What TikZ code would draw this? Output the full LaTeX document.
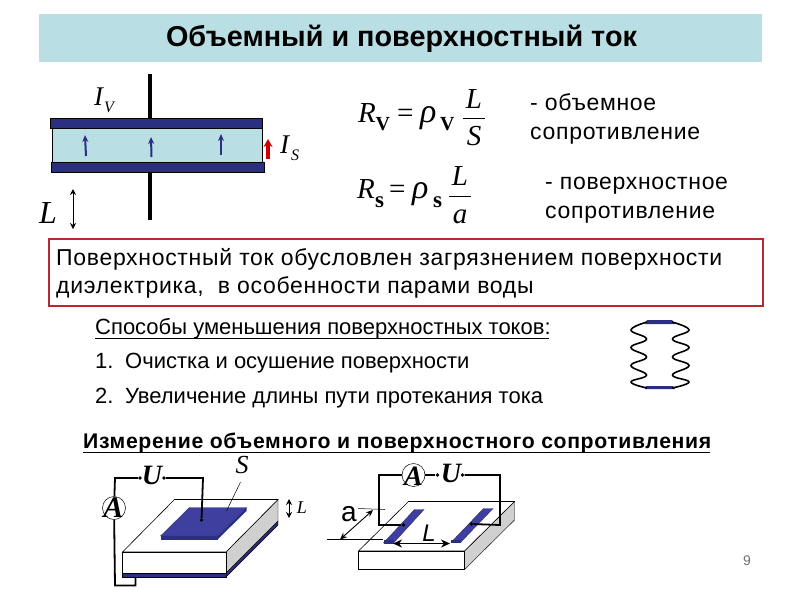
\documentclass[tikz,border=0pt]{standalone}
\usepackage{fontspec}
\setmainfont{Liberation Sans}
\newfontfamily\serifrm{Liberation Serif}
\newcommand{\serifit}{\serifrm\itshape}
\newfontfamily\spaced[LetterSpace=3]{Liberation Sans}
\newcommand{\spacedb}{\spaced\bfseries}
\usetikzlibrary{arrows.meta}
\definecolor{band}{HTML}{B9DEE4}
\definecolor{plate}{HTML}{2B2F80}
\definecolor{stripblue}{HTML}{3F3F9F}
\definecolor{redbox}{HTML}{B52A2E}
\definecolor{sidegrey}{HTML}{D0D0D0}
\newcommand{\fs}[1]{\fontsize{#1}{#1}\selectfont}
\tikzset{
  txt/.style={inner sep=0pt,anchor=base west,text=black},
  bodytxt/.style={txt,font=\fs{22}},
  sptxt/.style={txt,font=\spaced\fs{23}},
  mathi/.style={txt,font=\serifit\fs{29}},
  mathrho/.style={txt,font=\serifit\fs{34}},
  mathr/.style={txt,font=\serifrm\fs{29}},
  msub/.style={txt,font=\serifrm\bfseries\fs{20}},
  wire/.style={line width=1.8pt,black},
  rod/.style={line width=4pt,black},
  curup/.style={line width=2pt,plate,-{Stealth[length=7pt,width=6pt]}},
  dimarrow/.style={line width=.9pt,black,{Stealth[length=6pt,width=6pt]}-{Stealth[length=6pt,width=6pt]}},
  dot/.style={circle,fill=black,inner sep=0pt,minimum size=3.8pt},
  meter/.style={circle,draw=black,line width=.5pt,inner sep=0pt,minimum size=23pt},
  lab/.style={inner sep=0pt,font=\serifrm\bfseries\itshape\fs{28}},
}
\begin{document}
\begin{tikzpicture}[x=1pt,y=-1pt]
\useasboundingbox (0,0) rectangle (800,600);
\fill[white] (0,0) rectangle (800,600);
% title
\node[fill=band,minimum width=723pt,minimum height=48pt,inner sep=0pt,anchor=north west] (band) at (39,14) {};
\node[inner sep=0pt,font=\bfseries\fs{28.8}] (title) at (401.5,39) {Объемный и поверхностный ток};
% capacitor
\draw[rod] (150,74) -- (150,120);
\draw[rod] (150,170) -- (150,220);
\node[draw=black,line width=.7pt,fill=band,minimum width=210pt,minimum height=34pt,inner sep=0pt,anchor=north west] (diel) at (52,128) {};
\node[draw=black,line width=.5pt,fill=plate,minimum width=212pt,minimum height=10pt,inner sep=0pt,anchor=north west] (topplate) at (50,118) {};
\node[draw=black,line width=.5pt,fill=plate,minimum width=213pt,minimum height=10pt,inner sep=0pt,anchor=north west] (botplate) at (51,162) {};
\draw[curup] (86,156) -- (85,135);
\draw[curup] (151.5,157) -- (151,137);
\draw[curup] (221,155) -- (221,134);
\draw[line width=3.5pt,red!80!black,-{Stealth[length=8pt,width=9pt]}] (268,159) -- (268,139);
\node[txt,font=\serifit\fs{27}] (iv) at (94,105) {I};
\node[txt,font=\serifit\fs{16}] (ivs) at (104,112) {V};
\node[txt,font=\serifit\fs{27}] (is) at (280,153) {I};
\node[txt,font=\serifit\fs{16}] (iss) at (291,160) {S};
\node[txt,font=\serifit\fs{32}] (l1) at (39,223) {L};
\coordinate (l1a) at (73,189); \coordinate (l1b) at (73,229);
\draw[dimarrow] (l1a) -- (l1b);
% formulas
\node[mathi] (r1) at (358,122) {R};
\node[msub] (r1s) at (375.5,130) {V};
\node[mathr] (e1) at (397,122) {=};
\node[mathrho] (p1) at (420,122) {ρ};
\node[msub] (p1s) at (440,130) {V};
\node[mathi,anchor=base] (fl1) at (474,108) {L};
\node[mathi,anchor=base] (fs1) at (474,145) {S};
\draw[line width=.7pt] (463,118) -- (485,118);
\node[mathi] (r2) at (357,198) {R};
\node[msub,font=\serifrm\bfseries\fs{23}] (r2s) at (375,207) {s};
\node[mathr] (e2) at (389,198) {=};
\node[mathrho] (p2) at (412,198) {ρ};
\node[msub,font=\serifrm\bfseries\fs{23}] (p2s) at (433,207) {s};
\node[mathi,anchor=base] (fl2) at (460,185) {L};
\node[mathi,anchor=base] (fa2) at (460,223) {a};
\draw[line width=.7pt] (449,196) -- (471,196);
\node[sptxt] (t1) at (530,110) {- объемное};
\node[sptxt] (t2) at (530,139) {сопротивление};
\node[sptxt] (t3) at (545,189) {- поверхностное};
\node[sptxt] (t4) at (545,218.5) {сопротивление};
% red box
\node[draw=redbox,line width=2pt,minimum width=714pt,minimum height=66.5pt,inner sep=0pt,anchor=north west] (rbox) at (47.5,238) {};
\node[sptxt] (p1a) at (56,265) {Поверхностный ток обусловлен загрязнением поверхности};
\node[sptxt] (p1b) at (56,293.5) {диэлектрика,\ \ в особенности парами воды};
% list
\node[bodytxt] (h1) at (95,334.5) {Способы уменьшения поверхностных токов:};
\coordinate (h1l) at (95,338); \coordinate (h1r) at (549,338);
\draw[line width=.8pt] (h1l) -- (h1r);
\node[bodytxt] (n1) at (95,368.5) {1.};
\node[bodytxt] (i1) at (125,368.5) {Очистка и осушение поверхности};
\node[bodytxt] (n2) at (95,403) {2.};
\node[bodytxt] (i2) at (125,403) {Увеличение длины пути протекания тока};
% spring figure
\fill[plate] (647,320) -- (672,320) -- (675,324) -- (645,324) -- cycle;
\fill[plate] (646,386) -- (673,386) -- (675,389) -- (645,389) -- cycle;
\draw[line width=1.6pt] plot[smooth,tension=.75] coordinates {(647,322) (631,330) (646.5,339) (631,347.5) (646.5,357) (631,365.5) (646.5,375) (631,382) (647,388)};
\draw[line width=1.6pt] plot[smooth,tension=.75] coordinates {(672,322) (689,330) (672.5,339) (689,347.5) (672.5,357) (689,365.5) (672.5,375) (689,382) (672,388)};
% heading
\node[txt,font=\spacedb\fs{21.2}] (h2) at (83,448) {Измерение объемного и поверхностного сопротивления};
\coordinate (h2l) at (83,452); \coordinate (h2r) at (710,452);
\draw[line width=1pt] (h2l) -- (h2r);
% left block
\fill[plate,draw=black,line width=.4pt] (122,573) rectangle (226,577);
\fill[plate,draw=black,line width=.4pt] (226,573) -- (278,521) -- (278,525) -- (226,577) -- cycle;
\fill[sidegrey,draw=black,line width=.4pt] (226,552) -- (278,499.5) -- (278,521) -- (226,573) -- cycle;
\draw[line width=.6pt,fill=white] (174.5,499.5) -- (278,499.5) -- (226,552) -- (122.5,552) -- cycle;
\draw[line width=.7pt,fill=white] (122.5,552) rectangle (226,573);
\fill[plate] (160.5,536) -- (217.5,536) -- (217.5,539.5) -- (160.5,539.5) -- cycle;
\fill[plate] (217.5,536) -- (246.5,507.5) -- (246.5,511) -- (217.5,539.5) -- cycle;
\fill[stripblue,draw=plate,line width=.4pt] (189.5,507.5) -- (246.5,507.5) -- (217.5,536) -- (160.5,536) -- cycle;
% left circuit
\node[lab] (uL) at (152,475) {U};
\node[meter] (aL) at (114,508) {};
\node[lab,font=\serifrm\bfseries\itshape\fs{30}] (aLt) at (113.5,508) {A};
\node[dot] (uLa) at (140,478) {};
\node[dot] (uLb) at (164,478) {};
\coordinate (c1) at (203,478);
\node[dot] (dL) at (201.5,520) {};
\coordinate (c2) at (115,478);
\coordinate (c3) at (115,585.5);
\coordinate (c4) at (135.5,585.5);
\coordinate (c5) at (135.5,577);
\draw[wire] (uLb) -- (c1) -- (dL);
\draw[wire] (uLa) -- (c2) -- (aL);
\draw[wire] (aL) -- (c3) -- (c4) -- (c5);
\node[txt,font=\serifit\fs{26},anchor=center] (sL) at (242,465) {S};
\coordinate (sLa) at (240.5,482); \coordinate (sLb) at (226.5,511);
\draw[line width=.5pt] (sLa) -- (sLb);
\coordinate (lLa) at (289,499); \coordinate (lLb) at (289,518);
\draw[line width=.9pt,{Stealth[length=6pt,width=6pt]}-{Stealth[length=6pt,width=6pt]}] (lLa) -- (lLb);
\node[txt,font=\serifit\fs{18},anchor=center] (lL) at (302,508) {L};
% right block
\fill[sidegrey,draw=black,line width=.4pt] (464.5,551) -- (514.5,501.5) -- (514.5,520) -- (464.5,569.5) -- cycle;
\draw[line width=.6pt,fill=white] (408.5,501.5) -- (514.5,501.5) -- (464.5,551) -- (358.5,551) -- cycle;
\draw[line width=.7pt,fill=white] (358.5,551) rectangle (464.5,569.5);
% strips
\fill[stripblue,draw=plate,line width=.4pt] (414.5,509.5) -- (424,509.5) -- (393.5,543) -- (383.5,543) -- cycle;
\fill[plate] (383.5,540) rectangle (393.5,543.5);
\fill[stripblue,draw=plate,line width=.4pt] (483.5,508.5) -- (493,508.5) -- (460.5,542.5) -- (451,542.5) -- cycle;
\fill[plate] (451,539.5) rectangle (460.5,542.5);
% right circuit
\node[meter] (aR) at (413.5,475) {};
\node[lab] (aRt) at (413.5,476) {A};
\node[lab] (uR) at (451,473) {U};
\node[dot] (uRa) at (437.5,475) {};
\node[dot] (uRb) at (462.5,475) {};
\node[dot] (dRa) at (403.5,525) {};
\node[dot] (dRb) at (471.5,524) {};
\coordinate (w1) at (379,475); \coordinate (w2) at (379,525);
\coordinate (w3) at (500,475); \coordinate (w4) at (500,525);
\draw[wire] (dRa) -- (w2) -- (w1) -- (aR);
\draw[wire] (aR) -- (uRa);
\draw[wire] (uRb) -- (w3) -- (w4) -- (dRb);
\node[txt,font=\fs{28},anchor=center] (aa) at (349,514) {a};
\coordinate (aa1) at (358,508.5); \coordinate (aa2) at (385,509.5);
\coordinate (aa3) at (327,539.5); \coordinate (aa4) at (383,539.5);
\coordinate (aa5) at (373,510); \coordinate (aa6) at (340,539.5);
\draw[line width=.5pt] (aa1) -- (aa2);
\draw[line width=.5pt] (aa3) -- (aa4);
\draw[line width=.9pt,{Stealth[length=7pt,width=6pt]}-{Stealth[length=7pt,width=6pt]}] (aa5) -- (aa6);
\node[txt,font=\itshape\fs{24},anchor=center] (ll) at (429,533) {L};
\coordinate (ll1) at (393,543.5); \coordinate (ll2) at (450,543.5);
\draw[line width=1.6pt,{Stealth[length=9pt,width=8pt]}-{Stealth[length=9pt,width=8pt]}] (ll1) -- (ll2);
% page number
\node[inner sep=0pt,font=\fs{14},text=black!55] (pg) at (747,561) {9};
\end{tikzpicture}
\end{document}
